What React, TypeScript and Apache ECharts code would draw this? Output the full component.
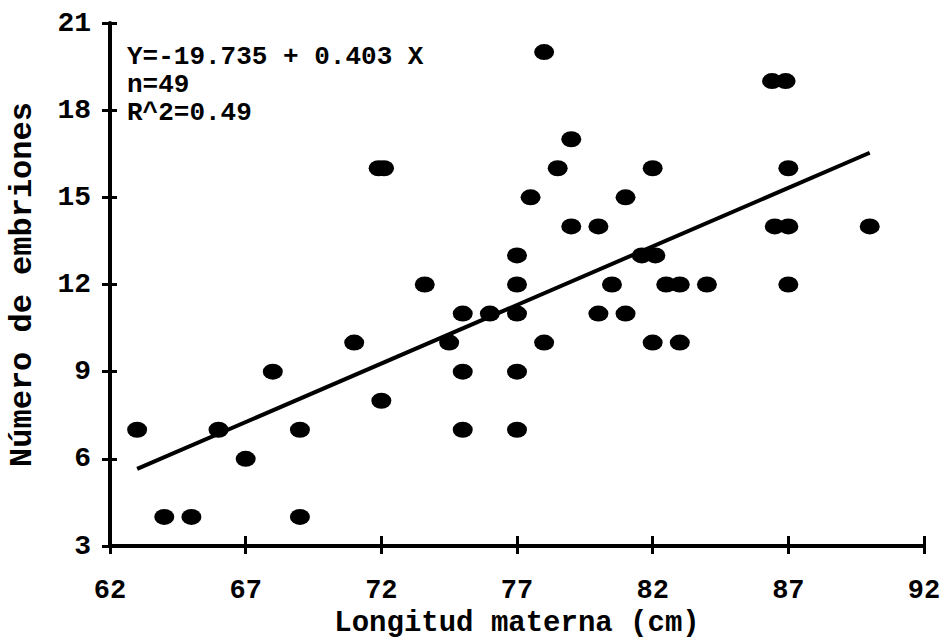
import React, { useEffect, useRef } from "react";
import * as echarts from "echarts";

// Maternal length (cm) and embryo count per female
const longitudMaterna: number[] = [
  63, 64, 65, 66, 67, 68, 69, 69, 71, 71.9, 72.1, 72, 73.6, 74.5, 75, 75, 75, 76,
  77, 77, 77, 77, 77, 78, 79, 78.5, 77.5, 79, 80, 82, 81, 80.5, 81.6, 82.1, 82.5,
  83, 84, 80, 81, 78, 82, 83, 86.4, 86.9, 87, 86.5, 87, 87, 90,
];
const numeroEmbriones: number[] = [
  7, 4, 4, 7, 6, 9, 7, 4, 10, 16, 16, 8, 12, 10, 11, 9, 7, 11,
  13, 12, 11, 9, 7, 20, 17, 16, 15, 14, 14, 16, 15, 12, 13, 13, 12,
  12, 12, 11, 11, 10, 10, 10, 19, 19, 16, 14, 14, 12, 14,
];

// Fitted regression Y = a + b X, drawn over the observed length range
const fitIntercept = -19.735;
const fitSlope = 0.403;
const fitRange: number[] = [63, 90];
const fitLabels: string[] = ["Y=-19.735 + 0.403 X", "n=49", "R^2=0.49"];

const xAxisName = "Longitud materna (cm)";
const yAxisName = "Número de embriones";

const FONT = '"Liberation Mono", "DejaVu Sans Mono", monospace';

export default function App() {
  const ref = useRef<HTMLDivElement>(null);

  useEffect(() => {
    if (!ref.current) return;
    const chart = echarts.init(ref.current, null, { renderer: "svg" });

    const points = longitudMaterna.map((x, i) => [x, numeroEmbriones[i]]);
    const fitLine = fitRange.map((x) => [x, fitIntercept + fitSlope * x]);

    const axisCommon = {
      type: "value" as const,
      splitLine: { show: false },
    };

    chart.setOption({
      animation: false,
      backgroundColor: "#ffffff",
      grid: {
        left: 110,
        right: 17,
        top: 23,
        bottom: 94,
        containLabel: false,
        outerBoundsMode: "none",
      },
      xAxis: [
        {
          ...axisCommon,
          position: "bottom",
          min: 62,
          max: 92,
          interval: 5,
          name: xAxisName,
          nameLocation: "middle",
          nameGap: 62,
          nameTextStyle: {
            fontFamily: FONT,
            fontWeight: "bold",
            fontSize: 29,
            lineHeight: 29,
            color: "#000",
          },
          axisLine: { show: true, onZero: false, lineStyle: { color: "#000", width: 4 } },
          axisTick: { show: true, inside: false, length: 8, lineStyle: { color: "#000", width: 3 } },
          axisLabel: { fontFamily: FONT, fontWeight: "bold", fontSize: 27, color: "#000", margin: 31 },
        },
        {
          // second copy of the length axis, only for the ticks that rise into the plot
          ...axisCommon,
          position: "bottom",
          min: 62,
          max: 92,
          interval: 5,
          axisLine: { show: false },
          axisTick: { show: true, inside: true, length: 10, lineStyle: { color: "#000", width: 3 } },
          axisLabel: { show: false },
        },
      ],
      yAxis: [
        {
          ...axisCommon,
          position: "left",
          min: 3,
          max: 21,
          interval: 3,
          name: yAxisName,
          nameLocation: "middle",
          nameGap: 72,
          nameTextStyle: { fontFamily: FONT, fontWeight: "bold", fontSize: 32, color: "#000" },
          axisLine: { show: true, onZero: false, lineStyle: { color: "#000", width: 4 } },
          axisTick: { show: true, inside: false, length: 8, lineStyle: { color: "#000", width: 3 } },
          axisLabel: { fontFamily: FONT, fontWeight: "bold", fontSize: 28, color: "#000", margin: 19 },
        },
        {
          ...axisCommon,
          position: "left",
          min: 3,
          max: 21,
          interval: 3,
          axisLine: { show: false },
          axisTick: { show: true, inside: true, length: 7, lineStyle: { color: "#000", width: 3 } },
          axisLabel: { show: false },
        },
      ],
      graphic: [
        {
          type: "text",
          left: 127,
          top: 43,
          style: {
            text: fitLabels.join("\n"),
            font: `bold 26px ${FONT}`,
            lineHeight: 28,
            fill: "#000",
          },
        },
      ],
      series: [
        {
          type: "line",
          xAxisIndex: 1,
          yAxisIndex: 1,
          data: fitLine,
          symbol: "none",
          lineStyle: { color: "#000", width: 4 },
          z: 2,
        },
        {
          type: "scatter",
          xAxisIndex: 0,
          yAxisIndex: 0,
          data: points,
          symbol: "path://M0,8 A10,8 0 1,1 20,8 A10,8 0 1,1 0,8 Z",
          symbolSize: [20, 16],
          itemStyle: { color: "#000", opacity: 1 },
          z: 3,
        },
      ],
    });

    return () => chart.dispose();
  }, []);

  return (
    <div
      ref={ref}
      style={{ position: "fixed", left: 0, top: 0, width: 941, height: 640, background: "#fff" }}
    />
  );
}
